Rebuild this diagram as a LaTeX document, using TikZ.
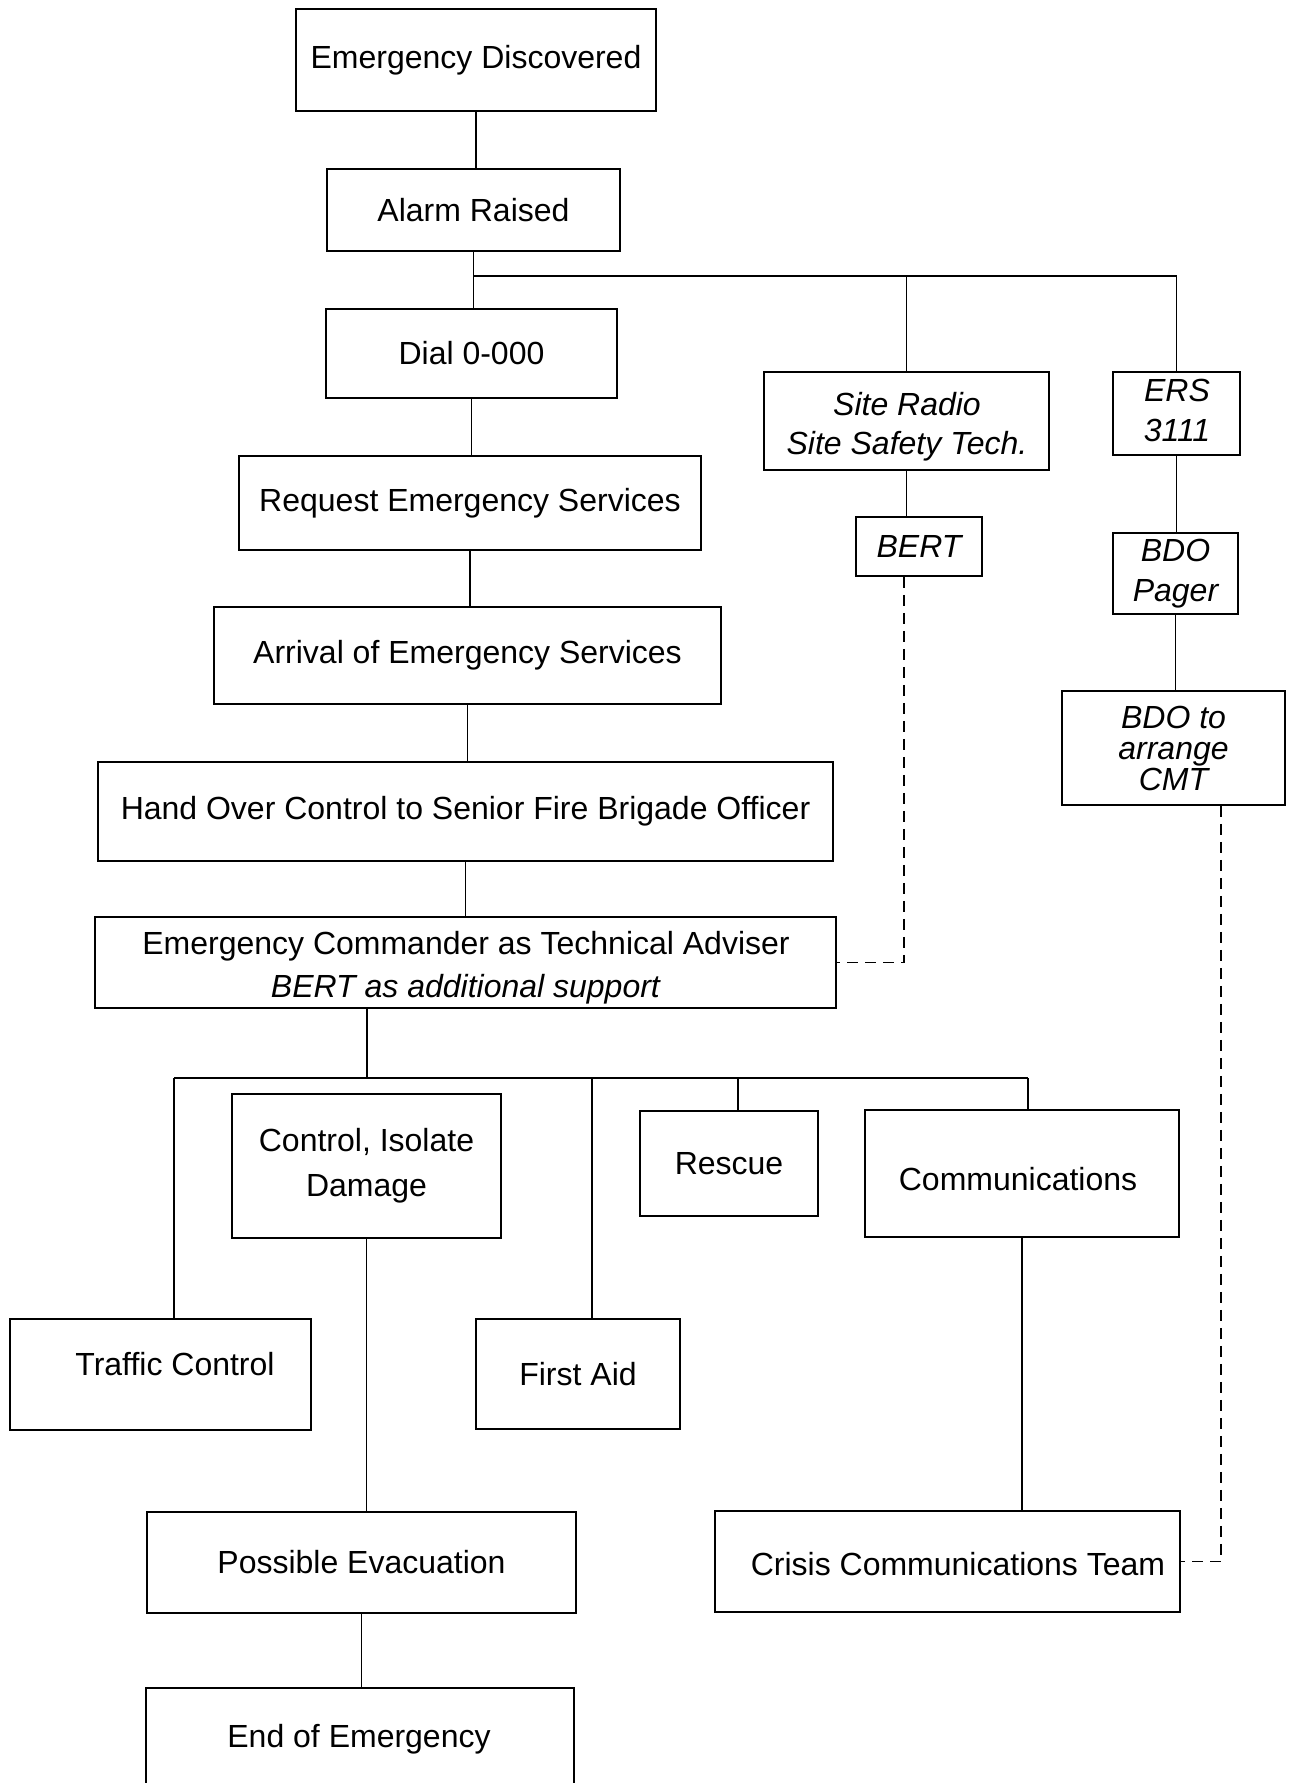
\documentclass[tikz,border=0pt]{standalone}
\usepackage{fontspec}
\setmainfont{Liberation Sans}
\begin{document}
\begin{tikzpicture}[x=1pt,y=-1pt,
  box/.style={draw,line width=1.7pt,inner sep=0pt,align=center,font=\fontsize{32}{40}\selectfont},
  itbox/.style={box,font=\fontsize{32}{40}\selectfont\itshape},
  txt/.style={inner sep=0pt,align=center,font=\fontsize{32}{40}\selectfont},
  conn/.style={line width=1.5pt},
  dashconn/.style={line width=1.6pt,dash pattern=on 11pt off 7pt}]
\clip (0,0) rectangle (1296,1783);
\fill[white] (0,0) rectangle (1296,1783);

\node[box,minimum width=360pt,minimum height=102pt] (ed) at (476,60) {Emergency Discovered};
\node[box,minimum width=293pt,minimum height=82pt] (ar) at (473.5,210) {Alarm Raised};
\node[box,minimum width=291pt,minimum height=89pt] (dial) at (471.5,353.5) {Dial 0-000};
\node[box,minimum width=285pt,minimum height=98pt] (sr) at (906.5,421) {};
\node[txt,font=\fontsize{32}{39}\selectfont\itshape] (srt) at (907,427) {Site Radio\\Site Safety Tech.};
\node[box,minimum width=127pt,minimum height=83pt] (ers) at (1176.5,413.5) {};
\node[txt,font=\fontsize{32}{40}\selectfont\itshape] (erst) at (1177,410) {ERS\\3111};
\node[box,minimum width=462pt,minimum height=94pt] (req) at (470,503) {Request Emergency Services};
\node[itbox,minimum width=126pt,minimum height=59pt] (bert) at (919,546.5) {BERT};
\node[itbox,minimum width=125pt,minimum height=81pt] (pager) at (1175.5,573.5) {BDO\\Pager};
\node[box,minimum width=507pt,minimum height=97pt] (arr) at (467.5,655.5) {Arrival of Emergency Services};
\node[itbox,minimum width=223pt,minimum height=114pt,font=\fontsize{32}{31}\selectfont\itshape] (cmt) at (1173.5,748) {BDO to\\arrange\\CMT};
\node[box,minimum width=735pt,minimum height=99pt] (hand) at (465.5,811.5) {Hand Over Control to Senior Fire Brigade Officer};
\node[box,minimum width=741pt,minimum height=91pt] (cmd) at (465.5,962.5) {};
\node[txt,font=\fontsize{32}{43}\selectfont] (cmdt) at (466,968) {Emergency Commander as Technical Adviser\\\textit{BERT as additional support}};
\node[box,minimum width=269pt,minimum height=144pt,font=\fontsize{32}{45}\selectfont] (ctrl) at (366.5,1166) {Control, Isolate\\Damage};
\node[box,minimum width=178pt,minimum height=105pt] (resc) at (729,1163.5) {Rescue};
\node[box,minimum width=314pt,minimum height=127pt] (comm) at (1022,1173.5) {};
\node[txt] (commt) at (1018,1179) {Communications};
\node[box,minimum width=301pt,minimum height=111pt] (traf) at (160.5,1374.5) {};
\node[txt] (traft) at (175,1364) {Traffic Control};
\node[box,minimum width=204pt,minimum height=110pt] (fa) at (578,1374) {First Aid};
\node[box,minimum width=429pt,minimum height=101pt] (pe) at (361.5,1562.5) {Possible Evacuation};
\node[box,minimum width=465pt,minimum height=101pt] (cct) at (947.5,1561.5) {};
\node[txt] (cctt) at (958,1564) {Crisis Communications Team};
\node[box,minimum width=428pt,minimum height=112pt] (eoe) at (360,1744) {};
\node[txt] (eoet) at (359,1739) {End of Emergency};

% top spine
\draw[conn] (ed.south) -- (ed.south |- ar.north);
\coordinate (b1) at (474,276);
\draw[conn] (ar.south) -- (ar.south |- dial.north);
\draw[conn] (b1) -| (ers.north);
\draw[conn] (b1 -| sr.north) -- (sr.north);
\draw[conn] (dial.south) -- (dial.south |- req.north);
\draw[conn] (req.south) -- (req.south |- arr.north);
\draw[conn] (arr.south) -- (arr.south |- hand.north);
\draw[conn] (hand.south) -- (hand.south |- cmd.north);
\draw[conn] (sr.south) -- (sr.south |- bert.north);
\draw[conn] (ers.south) -- (ers.south |- pager.north);
\draw[conn] (pager.south) -- (pager.south |- cmt.north);

% dashed links
\coordinate (d1) at (904,0);
\draw[dashconn] (d1 |- bert.south) |- (cmd.east);
\coordinate (d2) at (1221,0);
\draw[dashconn] (d2 |- cmt.south) |- (cct.east);

% lower bus
\coordinate (b2l) at (174,1078);
\coordinate (b2r) at (1028,1078);
\coordinate (b2c) at (367,1078);
\coordinate (b2f) at (592,1078);
\coordinate (b2s) at (738,1078);
\draw[conn] (cmd.south -| b2c) -- (b2c);
\draw[conn] (b2l) -- (b2r);
\draw[conn] (b2l) -- (b2l |- traf.north);
\draw[conn] (b2f) -- (b2f |- fa.north);
\draw[conn] (b2s) -- (b2s |- resc.north);
\draw[conn] (b2r) -- (b2r |- comm.north);
\draw[conn] (ctrl.south) -- (ctrl.south |- pe.north);
\draw[conn] (pe.south) -- (pe.south |- eoe.north);
\draw[conn] (comm.south) -- (comm.south |- cct.north);
\end{tikzpicture}
\end{document}
